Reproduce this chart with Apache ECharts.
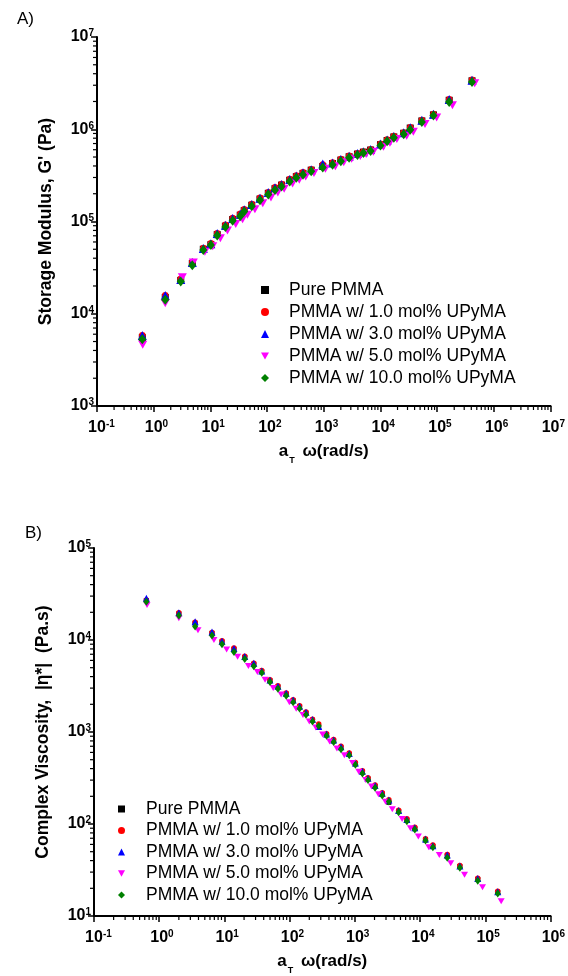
<!DOCTYPE html>
<html><head><meta charset="utf-8">
<script src="https://cdn.jsdelivr.net/npm/echarts@6/dist/echarts.min.js"></script>
<style>html,body{margin:0;padding:0;background:#fff}#c{width:568px;height:976px}</style>
</head><body><div id="c"></div>
<script>
// ---------- shared ----------
const seriesNames = ['Pure PMMA','PMMA w/ 1.0 mol% UPyMA','PMMA w/ 3.0 mol% UPyMA','PMMA w/ 5.0 mol% UPyMA','PMMA w/ 10.0 mol% UPyMA'];
const seriesColors = ['#000000','#ff0000','#0000ff','#ff00ff','#008000'];
const seriesSymbols = ['rect','circle','triangle','path://M0,0L10,0L5,9Z','diamond'];

// ---------- Panel A : storage modulus ----------
const omegaA  = [0.63,1.6,3.0,4.8,7.5,10.2,13.2,18.4,24.7,33.6,39.5,53.7,75,105,138,180,251,328,430,600,960,1430,2000,2800,3930,5000,6700,10000,13100,17200,25700,33500,53700,86000,163000,412000];
const omegaA5 = [0.64,1.6,3.2,5.0,8.0,11,15,20,28,37,45,61,84,117,155,200,282,370,480,670,1070,1600,2250,3100,4400,5600,7500,11300,14700,19500,29000,38000,61000,98000,186000,460000];
const gPure = [5500,15000,23000,35000,50000,56000,72000,89000,105000,117000,131000,150000,175000,202000,227000,248000,280000,306000,332000,360000,395000,425000,463000,503000,538000,565000,595000,680000,755000,825000,905000,1030000,1230000,1430000,2060000,3350000];
const g1  = [5850,15900,24000,36300,51500,58000,74500,92000,109000,121000,135500,154500,181000,208000,234500,254500,289000,315000,341000,368500,415000,436000,475000,515000,550000,575000,608000,697000,772000,843000,924000,1050000,1262000,1465000,2120000,3430000];
const g3  = [5800,15800,23500,36000,51000,57500,74000,91000,108000,120000,134000,153000,179000,206000,232000,252000,286000,312000,338000,365000,420000,432000,470000,510000,545000,570000,602000,690000,765000,835000,915000,1040000,1250000,1450000,2100000,3400000];
const g5  = [4600,13000,24800,36000,47000,54000,66000,80000,94000,106000,118000,136000,158000,182000,206000,226000,258000,284000,308000,336000,372000,398000,438000,478000,512000,540000,572000,645000,715000,785000,850000,940000,1140000,1340000,1820000,3150000];
const g10 = [5300,14200,22300,33600,49000,55500,70500,87000,102000,114000,128000,146000,170000,196000,220000,240000,272000,298000,322000,350000,385000,412000,450000,490000,525000,552000,582000,665000,740000,810000,880000,990000,1200000,1410000,1980000,3250000];

// ---------- Panel B : complex viscosity ----------
const omegaB  = [0.635,2.0,3.55,6.44,9.18,14.0,20.5,28.2,37.3,49.9,66.1,88.5,113,142,178,224,279,368,472,612,819,1018,1306,1590,2040,2630,3320,4690,6270,8300,12100,15700,26100,40700,76600,155000];
const omegaB5 = [0.65,2.0,3.93,6.9,10.8,15.9,23.3,32,42,56,74,99,126,160,200,252,320,410,530,690,920,1150,1470,1800,2300,2950,3750,5300,7100,9400,13600,19700,29500,48000,90600,175000];
const etaPure = [26800,19200,15200,11800,9500,7900,6450,5450,4520,3600,3080,2580,2180,1870,1600,1340,1130,930,800,675,570,450,366,308,256,211,172,137,110,89,67,57,45,34.5,25,18];
const eta1  = [27200,19800,15600,12100,9800,8200,6650,5600,4650,3700,3180,2650,2240,1930,1650,1380,1220,960,830,700,590,465,380,318,265,218,184,141,114,92,69,59,46.5,35.5,25.8,18.6];
const eta3  = [28400,19800,15800,12200,9700,8100,6600,5600,4600,3680,3150,2630,2230,1910,1640,1370,1150,950,820,690,585,460,375,315,262,216,182,140,112,91,68.5,58,46,35,25.5,18.4];
const eta5  = [24000,17200,12800,10000,7900,6580,5210,4500,3700,3000,2550,2100,1790,1530,1300,1120,940,790,660,560,460,370,300,255,210,175,145,113,90,73,56,46,37.5,28,20.5,14.5];
const eta10 = [26000,18500,14000,11200,9000,7400,6200,5200,4400,3500,2950,2480,2100,1800,1540,1300,1160,910,780,650,560,440,355,300,248,204,176,134,107,87,66,56,43,33.5,24.2,17.6];

// axis ranges
const xRangeA = [0.1, 1e7], yRangeA = [1e3, 1e7];
const xRangeB = [0.1, 1e6], yRangeB = [10, 1e5];

// ---------- helpers ----------
const FONT = '"Liberation Sans", Arial, sans-serif';
function minorTicks(range){
  const out = [];
  const e0 = Math.round(Math.log10(range[0])), e1 = Math.round(Math.log10(range[1]));
  for (let e = e0; e < e1; e++) for (let m = 2; m <= 9; m++) out.push(m * Math.pow(10, e));
  return out;
}
function expOf(v){ return Math.round(Math.log10(v)); }
const richTick = {
  b: {fontFamily: FONT, fontWeight: 'bold', fontSize: 16, color: '#000', lineHeight: 17},
  s: {fontFamily: FONT, fontWeight: 'bold', fontSize: 10, color: '#000', verticalAlign: 'top', lineHeight: 10},
  h: {fontFamily: FONT, fontWeight: 'bold', fontSize: 10, color: 'rgba(0,0,0,0)', verticalAlign: 'top', lineHeight: 10}
};
function xAxisCfg(idx, range){
  return {
    type: 'log', logBase: 10, gridIndex: idx, min: range[0], max: range[1],
    splitNumber: Math.round(Math.log10(range[1]/range[0])),
    axisLine: {show: true, lineStyle: {color: '#000', width: 2}},
    axisTick: {show: true, inside: false, length: 6, lineStyle: {color: '#000', width: 1.5}},
    splitLine: {show: false},
    axisLabel: {margin: 13, formatter: v => '{h|' + expOf(v) + '}{b|10}{s|' + expOf(v) + '}', rich: richTick},
    name: '{a|a}{t|T}{a| ω(rad/s)}', nameLocation: 'middle', nameGap: 35,
    nameTextStyle: {rich: {
      a: {fontFamily: FONT, fontWeight: 'bold', fontSize: 17, color: '#000', lineHeight: 20},
      t: {fontFamily: FONT, fontWeight: 'bold', fontSize: 9, color: '#000', verticalAlign: 'bottom', lineHeight: 9, padding: [0, 3, -4, 1]}
    }}
  };
}
function yAxisCfg(idx, range, name){
  return {
    type: 'log', logBase: 10, gridIndex: idx, min: range[0], max: range[1],
    splitNumber: Math.round(Math.log10(range[1]/range[0])),
    axisLine: {show: true, lineStyle: {color: '#000', width: 2}},
    axisTick: {show: true, inside: false, length: 6, lineStyle: {color: '#000', width: 1.5}},
    splitLine: {show: false},
    axisLabel: {margin: 3, formatter: v => '{b|10}{s|' + expOf(v) + '}', rich: richTick},
    name: name, nameLocation: 'middle', nameGap: 42, nameRotate: 90,
    nameTextStyle: {fontFamily: FONT, fontWeight: 'bold', fontSize: 17.5, color: '#000'}
  };
}
function minorSeries(idx, axis, range, other){
  const vals = minorTicks(range);
  const data = vals.map(v => axis === 'x' ? [v, other] : [other, v]);
  return {
    type: 'custom', xAxisIndex: idx, yAxisIndex: idx, clip: false, silent: true, z: 5,
    encode: {x: 0, y: 1}, data: data,
    renderItem: (params, api) => {
      const p = api.coord([api.value(0), api.value(1)]);
      const shape = axis === 'x'
        ? {x1: p[0], y1: p[1], x2: p[0], y2: p[1] + 4}
        : {x1: p[0], y1: p[1], x2: p[0] - 4, y2: p[1]};
      return {type: 'line', shape: shape, style: {stroke: '#000', lineWidth: 1.2}};
    }
  };
}
// marker sizes per series: square, circle, triangle, inverted triangle, diamond
const sizesA = [7, 6.5, 9, [9, 8], [8, 10]];
const sizesB = [5, 5.5, 7, [7, 6], [6, 8]];
function scatter(idx, k, xs, ys, sizes){
  return {
    type: 'scatter', name: seriesNames[k], xAxisIndex: idx, yAxisIndex: idx,
    symbol: seriesSymbols[k], symbolSize: sizes[k],
    itemStyle: {color: seriesColors[k], opacity: 1},
    data: xs.map((x, i) => [x, ys[i]]), z: 10 + k
  };
}
function legendCfg(left, top, size, pad, gap){
  return {
    orient: 'vertical', left: left, top: top, itemGap: gap,
    itemWidth: size, itemHeight: size, selectedMode: false,
    data: seriesNames.map(n => ({name: n})),
    textStyle: {fontFamily: FONT, fontSize: 17.5, color: '#000', lineHeight: 17.5, padding: [0, 0, 0, pad]}
  };
}

const option = {
  backgroundColor: '#fff',
  animation: false,
  title: [
    {text: 'A)', left: 12, top: 6, textStyle: {fontFamily: FONT, fontWeight: 'normal', fontSize: 17, color: '#000'}},
    {text: 'B)', left: 20, top: 520, textStyle: {fontFamily: FONT, fontWeight: 'normal', fontSize: 17, color: '#000'}}
  ],
  grid: [
    {left: 97, right: 13, top: 37, height: 369},
    {left: 94, right: 15, top: 548, height: 368}
  ],
  legend: [legendCfg(256, 276, 8, 15, 4), legendCfg(113, 795, 7, 16, 3.5)],
  xAxis: [xAxisCfg(0, xRangeA), xAxisCfg(1, xRangeB)],
  yAxis: [
    yAxisCfg(0, yRangeA, "Storage Modulus, G' (Pa)"),
    yAxisCfg(1, yRangeB, 'Complex Viscosity,  |η*|  (Pa.s)')
  ],
  series: [
    minorSeries(0, 'x', xRangeA, yRangeA[0]),
    minorSeries(0, 'y', yRangeA, xRangeA[0]),
    minorSeries(1, 'x', xRangeB, yRangeB[0]),
    minorSeries(1, 'y', yRangeB, xRangeB[0]),
    scatter(0, 0, omegaA, gPure, sizesA),
    scatter(0, 1, omegaA, g1, sizesA),
    scatter(0, 2, omegaA, g3, sizesA),
    scatter(0, 3, omegaA5, g5, sizesA),
    scatter(0, 4, omegaA, g10, sizesA),
    scatter(1, 0, omegaB, etaPure, sizesB),
    scatter(1, 1, omegaB, eta1, sizesB),
    scatter(1, 2, omegaB, eta3, sizesB),
    scatter(1, 3, omegaB5, eta5, sizesB),
    scatter(1, 4, omegaB, eta10, sizesB)
  ]
};
const chart = echarts.init(document.getElementById('c'), null, {renderer: 'canvas'});
chart.setOption(option);
</script>
</body></html>
